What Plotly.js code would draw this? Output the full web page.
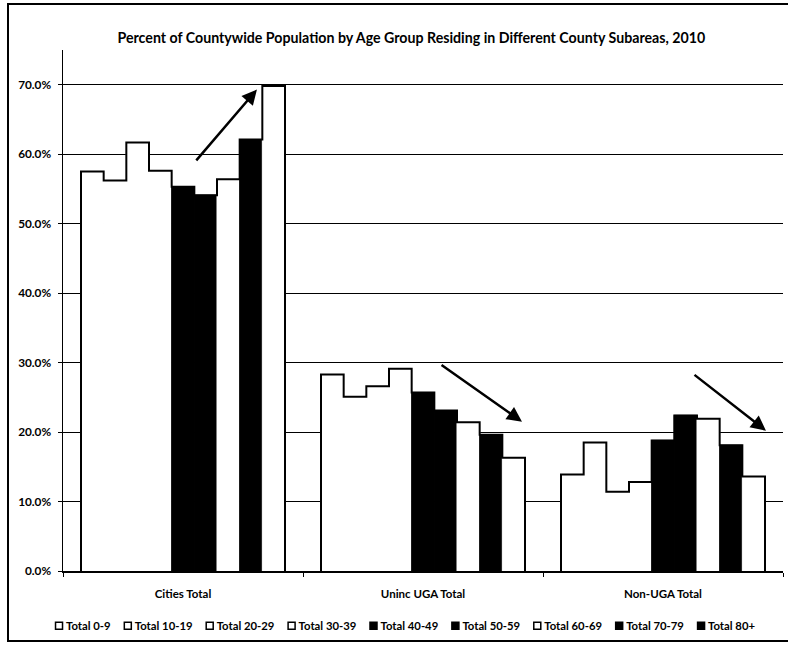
<!DOCTYPE html>
<html>
<head>
<meta charset="utf-8">
<script src="https://cdn.plot.ly/plotly-3.0.1.min.js"></script>
<style>
html,body{margin:0;padding:0;background:#fff;}
#wrap{position:relative;width:788px;height:645px;overflow:hidden;}
#chart{width:788px;height:645px;}
#frame{position:absolute;left:7px;top:3px;width:800px;height:639px;border:2px solid #000;pointer-events:none;box-sizing:border-box;}
</style>
</head>
<body>
<div id="wrap"><div id="chart"></div><div id="frame"></div></div>
<script>
// ---- data ----
const categories = ["Cities Total", "Uninc UGA Total", "Non-UGA Total"];
const seriesNames = ["Total 0-9","Total 10-19","Total 20-29","Total 30-39","Total 40-49","Total 50-59","Total 60-69","Total 70-79","Total 80+"];
const total0_9   = [57.5, 28.3, 13.9];
const total10_19 = [56.2, 25.1, 18.5];
const total20_29 = [61.7, 26.6, 11.4];
const total30_39 = [57.6, 29.1, 12.8];
const total40_49 = [55.3, 25.7, 18.8];
const total50_59 = [54.1, 23.1, 22.4];
const total60_69 = [56.4, 21.4, 21.9];
const total70_79 = [62.1, 19.6, 18.1];
const total80p   = [69.8, 16.3, 13.6];
const yTickVals   = [0,10,20,30,40,50,60,70];
const yTickLabels = ["0.0%","10.0%","20.0%","30.0%","40.0%","50.0%","60.0%","70.0%"];

// ---- styles ----
const seriesValues = [total0_9,total10_19,total20_29,total30_39,total40_49,total50_59,total60_69,total70_79,total80p];
const barFill  = ["#fff","#fff","#fff","#fff","#000","#000","#fff","#000","#fff"];
const legFill  = ["#fff","#fff","#fff","#fff","#000","#000","#fff","#000","#000"];
const BARGAP = 0.15;
const nS = seriesNames.length;
const xIdx = categories.map((c,i)=>i);
const slotW = (1-BARGAP)/nS;

const traces = [];
seriesValues.forEach((vals,j)=>{
  traces.push({type:'bar', x:xIdx, y:vals, name:seriesNames[j], showlegend:false,
    marker:{color:barFill[j], line:{width:1, color:barFill[j]}}, hoverinfo:'skip'});
});
// outline of each group (step line across bar tops), through the axes' scales
const ox=[], oy=[];
xIdx.forEach(g=>{
  const left = g-(1-BARGAP)/2;
  ox.push(left); oy.push(0);
  for(let j=0;j<nS;j++){ ox.push(left+j*slotW); oy.push(seriesValues[j][g]); }
  ox.push(left+nS*slotW); oy.push(seriesValues[nS-1][g]);
  ox.push(left+nS*slotW); oy.push(0);
  ox.push(null); oy.push(null);
});
traces.push({type:'scatter', mode:'lines', x:ox, y:oy, line:{color:'#000',width:2,shape:'hv'}, showlegend:false, hoverinfo:'skip', connectgaps:false});
// legend entries
seriesNames.forEach((n,j)=>{
  traces.push({type:'scatter', mode:'markers', x:[null], y:[null], name:n, showlegend:true,
    marker:{symbol:'square', size:7, color:legFill[j], line:{color:'#000', width:1.5}}});
});

const arrows = [
  {ax:0.05, ay:58.9, x:0.308, y:69.3},
  {ax:1.071, ay:29.8, x:1.4125, y:21.5},
  {ax:2.125, ay:28.4, x:2.429, y:20.2}
];
const annotations = arrows.map(a=>({x:a.x, y:a.y, ax:a.ax, ay:a.ay, xref:'x', yref:'y', axref:'x', ayref:'y',
  text:'', showarrow:true, arrowhead:2, arrowsize:1.2, arrowwidth:2.5, arrowcolor:'#000'}));

const F = "Lato, 'Open Sans', sans-serif";
const layout = {
  width:788, height:645,
  margin:{l:63, r:5, t:50, b:72, pad:0},
  paper_bgcolor:'#fff', plot_bgcolor:'#fff',
  barmode:'group', bargap:BARGAP, bargroupgap:0,
  title:{text:'Percent of Countywide Population by Age Group Residing in Different County Subareas, 2010',
    font:{family:F, size:14.2, color:'#000', weight:700}, x:0.522, xanchor:'center', y:0.941, yanchor:'middle'},
  xaxis:{range:[-0.5,2.5], tickmode:'array', tickvals:xIdx, ticktext:categories, ticks:'',
    showline:true, linecolor:'#000', linewidth:1.5, showgrid:false, zeroline:false,
    tickfont:{family:F, size:11.5, color:'#000', weight:700}, ticklabelstandoff:12,
    minor:{tick0:-0.5, dtick:1, ticks:'outside', ticklen:4, tickcolor:'#000', showgrid:false}},
  yaxis:{range:[0,75], tickmode:'array', tickvals:yTickVals, ticktext:yTickLabels,
    ticks:'outside', ticklen:4, tickcolor:'#000', showline:true, linecolor:'#000', linewidth:1.5,
    showgrid:true, gridcolor:'#000', gridwidth:1, zeroline:false, ticklabelstandoff:4,
    tickfont:{family:F, size:11.8, color:'#000', weight:700}},
  legend:{orientation:'h', x:-0.0333, xanchor:'left', y:-0.105, yanchor:'middle',
    font:{family:F, size:11.3, color:'#000', weight:700}, entrywidth:26, entrywidthmode:'pixels',
    itemwidth:30, traceorder:'normal', bgcolor:'rgba(0,0,0,0)'},
  annotations:annotations,
  showlegend:true
};
Plotly.newPlot('chart', traces, layout, {staticPlot:true, displayModeBar:false}).then(gd=>{
  // compact legend entries: symbol, small gap, label, spread across the same span as the source chart
  const items = Array.from(gd.querySelectorAll('.legend .traces'));
  const TEXT_X = 27, SYM_X = 20, SPAN = 696; // first symbol centre to last label end
  const widths = items.map(it=>{ const t = it.querySelector('.legendtext'); t.setAttribute('x', TEXT_X); return t.getComputedTextLength(); });
  const sumW = widths.reduce((a,b)=>a+b,0);
  const n = items.length;
  let gap = (SPAN - n*(TEXT_X-SYM_X) - sumW)/(n-1);
  if(gap < 12) gap = 12;
  let cx = null;
  items.forEach((it,i)=>{
    const m = /translate\(\s*([-\d.e]+)[ ,]+([-\d.e]+)\s*\)/.exec(it.getAttribute('transform')||'');
    const y = m ? m[2] : 0;
    if(cx===null) cx = m ? parseFloat(m[1]) : 0;
    it.setAttribute('transform', 'translate(' + cx + ',' + y + ')');
    cx += (TEXT_X-SYM_X) + widths[i] + gap;
  });
  gd.querySelectorAll('.legend [clip-path]').forEach(e=>e.removeAttribute('clip-path'));
  const lg = gd.querySelector('.legend');
  if(lg) lg.removeAttribute('clip-path');
});
</script>
</body>
</html>
